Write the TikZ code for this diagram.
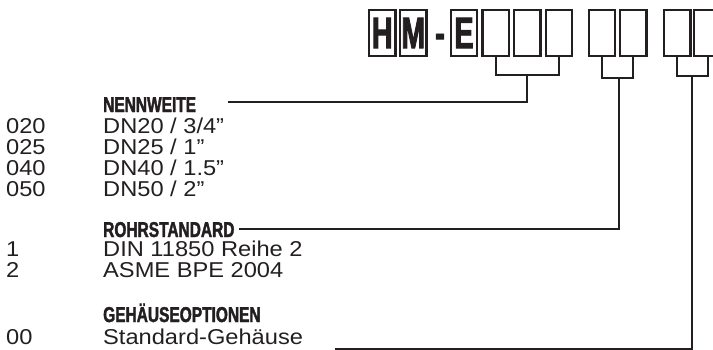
\documentclass[tikz,border=0pt]{standalone}
\usepackage{fontspec}
\setmainfont[FakeStretch=1.1]{Liberation Sans}
\newfontfamily\headfont[UprightFont={Liberation Sans Bold},FakeStretch=0.72,FakeBold=1.8]{Liberation Sans}
\newfontfamily\boxfont[UprightFont={Liberation Sans Bold},FakeStretch=0.65,FakeBold=2]{Liberation Sans}
\usepackage{xcolor}
\definecolor{ink}{RGB}{35,31,32}

\tikzset{
	slot/.style={draw=ink, line width=2.2pt, minimum width=26.5pt, minimum height=46.5pt, inner sep=0pt,
		font=\boxfont\fontsize{44}{44}\selectfont, text=ink},
	wire/.style={draw=ink, line width=2pt},
	head/.style={anchor=base west, inner sep=0pt, text=ink, font=\headfont\fontsize{21.5}{22}\selectfont},
	item/.style={anchor=base west, inner sep=0pt, text=ink, font=\fontsize{21.5}{21}\selectfont}
}

\begin{document}
\begin{tikzpicture}[x=1pt, y=-1pt]
	\useasboundingbox (0,0) rectangle (713,349);
	% code boxes
	\node[slot] (boxH) at (382.2,33) {H};
	\node[slot] (boxM) at (413.3,33) {M};
	\node[anchor=base, inner sep=0pt, text=ink, font=\boxfont\fontsize{44}{44}\selectfont] (dash) at (440,48) {-};
	\node[slot] (boxE) at (464,33) {E};
	\foreach \n/\x in {n1/495.7, n2/527.2, n3/559, r1/602, r2/633.3, g1/677.3, g2/707.5}
		\node[slot] (\n) at (\x,33) {};

	% headings and entries
	\node[head] (nenn) at (103,112) {NENNWEITE};
	\node[item] (c020) at (6,133) {020};
	\node[item] (d020) at (103,133) {DN20 / 3/4”};
	\node[item] (c025) at (6,154) {025};
	\node[item] (d025) at (103,154) {DN25 / 1”};
	\node[item] (c040) at (6,175) {040};
	\node[item] (d040) at (103,175) {DN40 / 1.5”};
	\node[item] (c050) at (6,196) {050};
	\node[item] (d050) at (103,196) {DN50 / 2”};

	\node[head] (rohr) at (103,237) {ROHRSTANDARD};
	\node[item] (c1) at (6,256.5) {1};
	\node[item] (d1) at (103,256.5) {DIN 11850 Reihe 2};
	\node[item] (c2) at (6,277) {2};
	\node[item] (d2) at (103,277) {ASME BPE 2004};

	\node[head] (geh) at (103,322) {GEHÄUSEOPTIONEN};
	\node[item] (c00) at (6,344) {00};
	\node[item] (d00) at (103,344) {Standard-Gehäuse};

	% brackets
	\coordinate (k1) at (527.2,75);
	\coordinate (k2) at (619,77.5);
	\coordinate (k3) at (692,76);
	\coordinate (e1) at (228,101.5);
	\coordinate (e2) at (239,229);
	\coordinate (e3) at (335,348.8);
	\draw[wire] (n1.south) |- (k1) -| (n3.south);
	\draw[wire] (r1.south) |- (k2) -| (r2.south);
	\draw[wire] (g1.south) |- (k3) -| (g2.south);
	\draw[wire] (k1) |- (e1);
	\draw[wire] (k2) |- (e2);
	\draw[wire] (k3) |- (e3);
\end{tikzpicture}
\end{document}
